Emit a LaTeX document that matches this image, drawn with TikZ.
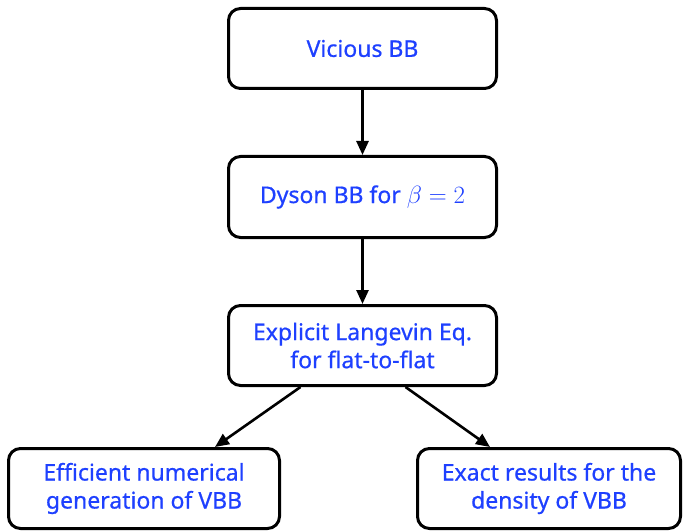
\documentclass[tikz,border=0pt]{standalone}
\usepackage{fontspec}
\setmainfont{Noto Sans}[FakeBold=0.6]
\usetikzlibrary{arrows.meta}
\definecolor{txtblue}{RGB}{30,64,255}
\tikzset{
  box/.style={draw=black, line width=3pt, rounded corners=12pt, fill=white,
    minimum height=80pt, inner sep=0pt, align=center, text=txtblue,
    font=\fontsize{23}{28}\selectfont},
  conn/.style={line width=2.6pt, -{Triangle[length=14pt,width=12pt]}}
}
\begin{document}
\begin{tikzpicture}[x=1pt,y=-1pt]
\useasboundingbox (0,0) rectangle (683,532);
\node[box, minimum width=268pt, minimum height=80pt] (b1) at (362.5,48.5) {Vicious BB};
\node[box, minimum width=268pt, minimum height=81pt] (b2) at (362.5,197) {Dyson BB for {\fontsize{25}{28}\selectfont$\beta=2$}};
\node[box, minimum width=268pt] (b3) at (362.5,345.5) {Explicit Langevin Eq.\\for flat-to-flat};
\node[box, minimum width=271pt] (b4) at (144,488.5) {Efficient numerical\\generation of VBB};
\node[box, minimum width=263pt] (b5) at (549,488.5) {Exact results for the\\density of VBB};
\draw[conn] (b1.south) -- (b2.north);
\draw[conn] (b2.south) -- (b3.north);
\draw[conn] ([xshift=-62pt]b3.south) -- ([xshift=71pt]b4.north);
\draw[conn] ([xshift=43pt]b3.south) -- ([xshift=-59pt]b5.north);
\end{tikzpicture}
\end{document}
